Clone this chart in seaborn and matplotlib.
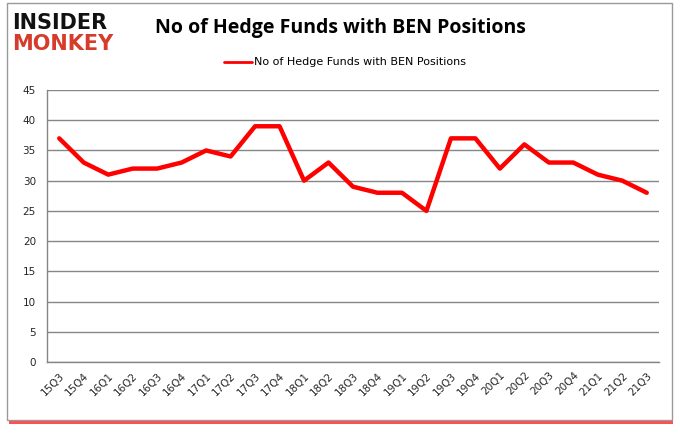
import matplotlib
matplotlib.use("Agg")
import matplotlib.pyplot as plt
import seaborn as sns
import pandas as pd
import numpy as np
from matplotlib.patches import Rectangle
from matplotlib.lines import Line2D

quarters = ["15Q3", "15Q4", "16Q1", "16Q2", "16Q3", "16Q4", "17Q1", "17Q2", "17Q3", "17Q4",
            "18Q1", "18Q2", "18Q3", "18Q4", "19Q1", "19Q2", "19Q3", "19Q4", "20Q1", "20Q2",
            "20Q3", "20Q4", "21Q1", "21Q2", "21Q3"]
funds = [37, 33, 31, 32, 32, 33, 35, 34, 39, 39,
         30, 33, 29, 28, 28, 25, 37, 37, 32, 36,
         33, 33, 31, 30, 28]
series_name = "No of Hedge Funds with BEN Positions"

df = pd.DataFrame({"quarter": quarters, "funds": funds, "idx": np.arange(len(quarters))})

sns.set_style("white")
plt.rcParams["font.family"] = ["DejaVu Sans"]

fig = plt.figure(figsize=(6.8, 4.33), dpi=100)

# frame with red shadow (behind axes)
fig.patches.append(Rectangle((9/680, 1 - 424/433), 664/680, 5/433, transform=fig.transFigure,
                             facecolor="#ff3030", edgecolor="none", alpha=0.85, zorder=-3))
fig.patches.append(Rectangle((7/680, 1 - 420/433), 665/680, 417/433, transform=fig.transFigure,
                             facecolor="white", edgecolor="#9a9a9a", linewidth=1, zorder=-2))

ax = fig.add_axes([47/680, 71/433, 612/680, 272/433])
ax.patch.set_alpha(0)

sns.lineplot(data=df, x="idx", y="funds", ax=ax, color="#ff0000", linewidth=3.2, legend=False)

ax.set_xlim(-0.5, len(quarters) - 0.5)
ax.set_ylim(0, 45)
ax.set_yticks(range(0, 50, 5))
ax.yaxis.grid(True, color="#868686", linewidth=1)
ax.xaxis.grid(False)
ax.set_xticks(range(len(quarters)))
ax.set_xticklabels(quarters, rotation=45, ha="right", va="top", rotation_mode="anchor", fontsize=7.5)
ax.set_xticks(np.arange(-0.5, len(quarters), 1), minor=True)
ax.tick_params(axis="x", which="major", length=0, pad=6)
ax.tick_params(axis="x", which="minor", length=5, color="#868686", width=1, direction="out")
ax.tick_params(axis="y", length=5, color="#868686", width=1, direction="out", labelsize=7.5, pad=3)
ax.set_xlabel("")
ax.set_ylabel("")
for s in ["top", "right"]:
    ax.spines[s].set_visible(False)
for s in ["left", "bottom"]:
    ax.spines[s].set_color("#868686")
    ax.spines[s].set_linewidth(1)
ax.set_axisbelow(True)

# logo
fig.text(12/680, 1 - 23/433, "INSIDER", fontsize=15, fontweight="heavy", color="#111111",
         va="center", ha="left", family="DejaVu Sans")
fig.text(12/680, 1 - 44/433, "MONKEY", fontsize=15, fontweight="heavy", color="#d63c2c",
         va="center", ha="left", family="DejaVu Sans")

# title
fig.text(340/680, 1 - 28/433, series_name, fontsize=14, fontweight="bold", color="#000000",
         ha="center", va="center", family="Open Sans")

# legend
fig.lines.append(Line2D([224/680, 252/680], [1 - 62/433, 1 - 62/433], transform=fig.transFigure,
                        color="#ff0000", linewidth=2))
fig.text(254/680, 1 - 62/433, series_name, fontsize=8, color="#000000", ha="left", va="center")

fig.savefig("out.png", dpi=100)
